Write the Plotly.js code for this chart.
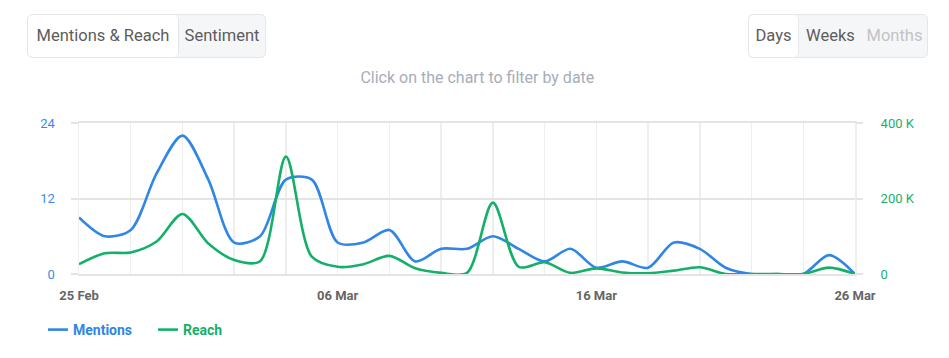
<!DOCTYPE html>
<html>
<head>
<meta charset="utf-8">
<script src="https://cdn.plot.ly/plotly-3.0.1.min.js"></script>
<style>
  html, body { margin:0; padding:0; background:#fff; font-family: Roboto, "Open Sans", sans-serif; }
  #wrap { position:relative; width:949px; height:358px; overflow:hidden; }
  #chart { position:absolute; left:0; top:0; width:949px; height:358px; }
  .grp { position:absolute; top:14px; height:42px; display:flex; border:1px solid #e4e6eb; border-radius:5px; background:#f5f6f8; overflow:hidden; z-index:2; }
  .btn { height:42px; line-height:42px; font-size:16.5px; color:#5c5c5c; padding:0; text-align:center; box-sizing:border-box; white-space:nowrap; }
  .btn.on { background:#fff; border-right:1px solid #e4e6eb; border-radius:5px; }
  .btn.dis { color:#c3c3c3; }
</style>
</head>
<body>
<div id="wrap">
  <div id="chart"></div>
  <div class="grp" style="left:27px; width:237px;">
    <div class="btn on" style="width:151px;">Mentions &amp; Reach</div>
    <div class="btn" style="width:86px;">Sentiment</div>
  </div>
  <div class="grp" style="left:748px; width:178px;">
    <div class="btn on" style="width:50px;">Days</div>
    <div class="btn" style="width:63px;">Weeks</div>
    <div class="btn dis" style="width:65px;">Months</div>
  </div>
</div>
<script>
const dates = [
  "2024-02-25","2024-02-26","2024-02-27","2024-02-28","2024-02-29",
  "2024-03-01","2024-03-02","2024-03-03","2024-03-04","2024-03-05",
  "2024-03-06","2024-03-07","2024-03-08","2024-03-09","2024-03-10",
  "2024-03-11","2024-03-12","2024-03-13","2024-03-14","2024-03-15",
  "2024-03-16","2024-03-17","2024-03-18","2024-03-19","2024-03-20",
  "2024-03-21","2024-03-22","2024-03-23","2024-03-24","2024-03-25",
  "2024-03-26"
];
const mentions = [9,6,7,16,22,15,5,6,15,15,5,5,7,2,4,4,6,4,2,4,1,2,1,5,4,1,0,0,0,3,0];
const reachK   = [26,55,57,86,159,81,37,34,311,46,19,26,48,15,3,3,189,19,31,3,15,4,2,9,18,0,0,0,0,17,0];
const leftTicks = [0,12,24];
const rightTickVals = [0,200,400];
const rightTickText = ["0","200 K","400 K"];
const xTickVals = ["2024-02-25","2024-03-06","2024-03-16","2024-03-26"];
const xTickText = ["25 Feb","06 Mar","16 Mar","26 Mar"];

const BLUE = "#2f86e4";
const GREEN = "#14b06a";

const traces = [
  { x: dates, y: mentions, name: "Mentions", type: "scatter", mode: "lines",
    line: { color: BLUE, width: 2.6, shape: "spline", smoothing: 0.85 }, yaxis: "y" },
  { x: dates, y: reachK, name: "Reach", type: "scatter", mode: "lines",
    line: { color: GREEN, width: 2.6, shape: "spline", smoothing: 0.85 }, yaxis: "y2" }
];

const layout = {
  width: 949, height: 358,
  margin: { l: 79, r: 94, t: 123, b: 84, pad: 0 },
  paper_bgcolor: "#fff", plot_bgcolor: "#fff",
  font: { family: "Roboto, sans-serif" },
  title: { text: "Click on the chart to filter by date", x: 0.503, xref: "container",
           y: 1 - 77/358, yref: "container", yanchor: "middle",
           font: { size: 16, color: "#a7adb8", family: "Roboto, sans-serif" } },
  xaxis: {
    type: "date", range: ["2024-02-25", "2024-03-26"],
    tickmode: "array", tickvals: xTickVals, ticktext: xTickText,
    showgrid: true, gridcolor: "#eeeeee", gridwidth: 1.5,
    minor: { dtick: 2*86400000, tick0: "2024-02-25", showgrid: true, gridcolor: "#eeeeee", gridwidth: 1.5 },
    showline: true, mirror: true, linecolor: "#e4e4e4", linewidth: 2,
    zeroline: false, ticks: "",
    tickfont: { size: 13, color: "#666", family: "Roboto, sans-serif", weight: "bold" },
    ticklabelstandoff: 8,
    fixedrange: true
  },
  yaxis: {
    range: [0, 24], tickmode: "array", tickvals: leftTicks,
    showgrid: true, gridcolor: "#e4e4e4", gridwidth: 2,
    zeroline: false,
    showline: true, mirror: true, linecolor: "#eeeeee", linewidth: 1.5,
    ticks: "outside", ticklen: 7, tickcolor: "#e4e4e4", tickwidth: 2,
    tickfont: { size: 13, color: "#3b8be6", family: "Roboto, sans-serif" },
    ticklabelstandoff: 13,
    fixedrange: true
  },
  yaxis2: {
    overlaying: "y", side: "right", range: [0, 400],
    tickmode: "array", tickvals: rightTickVals, ticktext: rightTickText,
    showgrid: false, zeroline: false, showline: false,
    ticks: "outside", ticklen: 7, tickcolor: "#e4e4e4", tickwidth: 2,
    tickfont: { size: 13, color: "#19b06c", family: "Roboto, sans-serif" },
    ticklabelstandoff: 15,
    fixedrange: true
  },
  showlegend: true,
  legend: {
    orientation: "h", xref: "container", yref: "container",
    x: 33/949, y: 1 - 330/358, xanchor: "left", yanchor: "middle",
    font: { size: 14, family: "Roboto, sans-serif", weight: "bold" },
    itemwidth: 30, tracegroupgap: 0, bgcolor: "rgba(0,0,0,0)",
    entrywidth: 65, entrywidthmode: "pixels"
  },
  hovermode: false
};

Plotly.newPlot("chart", traces, layout, { displayModeBar: false, staticPlot: true }).then(() => {
  const cols = [BLUE, GREEN];
  document.querySelectorAll(".legendtext").forEach((t, i) => { t.style.fill = cols[i]; });
  document.querySelectorAll(".legendlines path").forEach(p => { p.setAttribute("d", "M15,0h20"); });
});
</script>
</body>
</html>
